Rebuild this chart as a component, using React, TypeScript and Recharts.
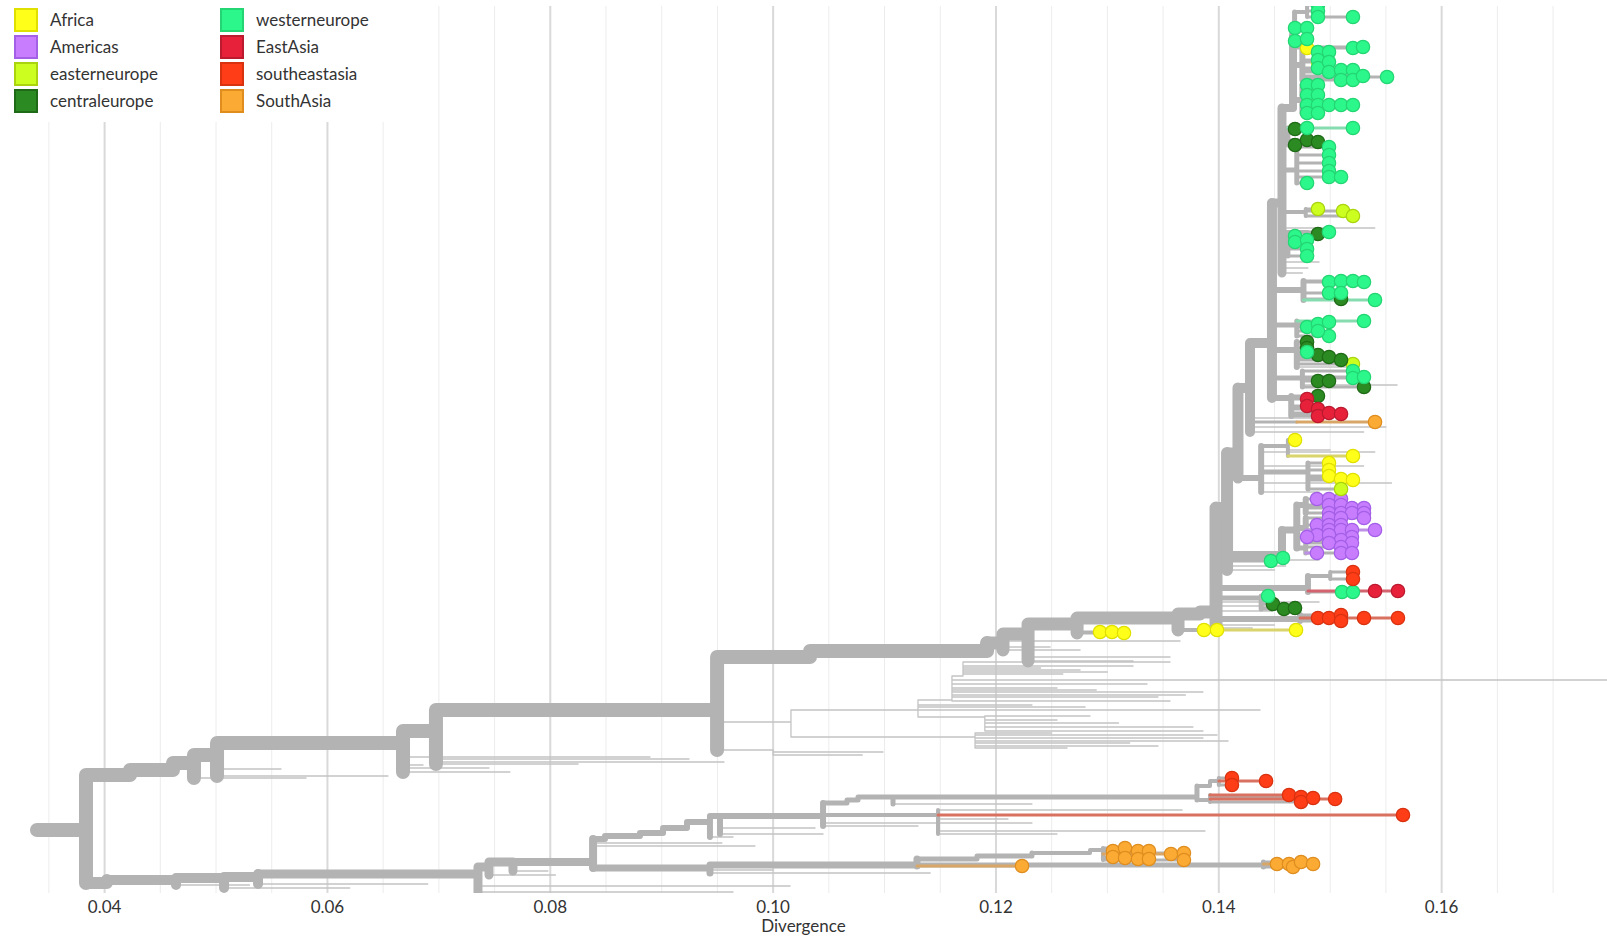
import React from 'react'
import { ComposedChart, Line, Scatter, XAxis, YAxis } from 'recharts'

// [id, parent, divergence, row, width]
type TreeNode = [string, string, number, number, number]
// [parent, divergence, row]
type Twig = [string, number, number]
// [parent, divergence, row, tinted branch]
type Tip = [string, number, number, number?]

const divergenceRange: [number, number] = [0.030612, 0.17484]
const rowRange: [number, number] = [6, 893]
const majorTicks = [0.04, 0.06, 0.08, 0.1, 0.12, 0.14, 0.16]
const minorTicks = [
  0.035, 0.045, 0.05, 0.055, 0.065, 0.07, 0.075, 0.085, 0.09, 0.095, 0.105, 0.11, 0.115,
  0.125, 0.13, 0.135, 0.145, 0.15, 0.155, 0.165, 0.17,
]

const rootPath: TreeNode[] = [
  ['O', '', 0.03393, 830, 14],
  ['R', 'O', 0.03833, 830, 14],
]

const upperBackbone: TreeNode[] = [
  ['u1', 'R', 0.04228, 775, 14],
  ['u2', 'u1', 0.04614, 770, 14],
  ['u3', 'u2', 0.04802, 763, 14],
  ['u4', 'u3', 0.05009, 755, 14],
  ['u5', 'u4', 0.06678, 743, 14],
  ['u6', 'u5', 0.06974, 731, 14],
  ['u7', 'u6', 0.09497, 710, 14],
  ['u8', 'u7', 0.10331, 657, 14],
  ['u9', 'u8', 0.1192, 651, 14],
  ['u10', 'u9', 0.12063, 643, 13],
  ['u11', 'u10', 0.12288, 634, 13],
  ['u12', 'u11', 0.12728, 624, 13],
  ['u13', 'u12', 0.13634, 618, 13],
  ['u14', 'u13', 0.13831, 614, 13],
]

const spine: TreeNode[] = [
  ['S0', 'u14', 0.13975, 612, 13],
  ['S1', 'S0', 0.14074, 508, 12],
  ['S2', 'S1', 0.14172, 453, 11],
  ['S3', 'S2', 0.1428, 388, 10],
  ['N', 'S3', 0.14477, 343, 10],
  ['T2', 'N', 0.14567, 203, 9],
  ['T3', 'T2', 0.14666, 108, 8],
]

const clades: TreeNode[] = [
  ['tA', 'T3', 0.1468, 35, 5],
  ['tTop', 'tA', 0.14792, 12, 4],
  ['tB', 'T3', 0.1475, 65, 6],
  ['tC', 'T3', 0.1475, 100, 6],
  ['dg', 'T2', 0.1462, 135, 5],
  ['g183', 'T2', 0.147, 170, 5],
  ['ee', 'T2', 0.1478, 212, 4],
  ['g232', 'T2', 0.148, 232, 4],
  ['g245', 'T2', 0.1462, 247, 5],
  ['g290', 'N', 0.1476, 290, 6],
  ['g327', 'N', 0.147, 325, 5],
  ['ce', 'N', 0.147, 350, 6],
  ['g378', 'N', 0.1475, 378, 5],
  ['ea', 'N', 0.1465, 398, 6],
  ['sa', 'S3', 0.147, 422, 3],
  ['af', 'S2', 0.1438, 478, 6],
  ['af2', 'af', 0.1462, 446, 4],
  ['af3', 'af', 0.148, 472, 5],
  ['am', 'S1', 0.14567, 555, 8],
  ['am2', 'am', 0.147, 530, 7],
  ['am3', 'am2', 0.1478, 505, 6],
  ['am4', 'am2', 0.1478, 528, 6],
  ['am5', 'am2', 0.1478, 548, 5],
  ['sea', 'S0', 0.14729, 619, 6],
  ['ce2', 'S0', 0.1438, 598, 5],
  ['ea2', 'S0', 0.148, 588, 6],
  ['ea3', 'ea2', 0.15, 576, 4],
  ['yb', 'u13', 0.13867, 630, 4],
]

const lowerBackbone: TreeNode[] = [
  ['l1', 'R', 0.04021, 883, 12],
  ['l2', 'l1', 0.04641, 880, 10],
  ['l3', 'l2', 0.05072, 878, 10],
  ['l4', 'l3', 0.05377, 877, 10],
  ['l5', 'l4', 0.07351, 874, 9],
  ['l6', 'l5', 0.0745, 867, 9],
  ['l7', 'l6', 0.07665, 862, 9],
  ['N1', 'l7', 0.08384, 862, 8],
  ['a1', 'N1', 0.08491, 839, 6],
  ['a2', 'a1', 0.08805, 836, 6],
  ['a3', 'a2', 0.09012, 833, 6],
  ['a4', 'a3', 0.09227, 828, 6],
  ['a5', 'a4', 0.09433, 822, 6],
  ['a6', 'a5', 0.09523, 816, 6],
  ['N2', 'a6', 0.10448, 816, 6],
  ['b1', 'N2', 0.10663, 803, 5],
  ['b3', 'b1', 0.10762, 800, 5],
  ['b4', 'b3', 0.11076, 797, 5],
  ['N3', 'b4', 0.13804, 797, 5],
  ['c1', 'N3', 0.13921, 786, 4],
  ['c2', 'c1', 0.14, 781, 4],
  ['c3', 'N3', 0.13921, 800, 4],
  ['b2', 'N2', 0.1148, 815, 4],
  ['d1', 'N1', 0.09433, 868, 7],
  ['d2', 'd1', 0.11291, 865, 7],
  ['d3', 'd2', 0.1183, 859, 5],
  ['d4', 'd3', 0.12323, 856, 5],
  ['d5', 'd4', 0.12844, 853, 4],
  ['d6', 'd5', 0.1296, 850, 4],
  ['d7', 'd2', 0.144, 865, 5],
]

const midNodes: TreeNode[] = [
  ['m1', 'u7', 0.1016, 722, 1.3],
  ['m2', 'm1', 0.113, 710, 1.3],
  ['m3', 'm2', 0.11605, 700, 1.3],
  ['m4', 'm3', 0.11704, 676, 1.3],
  ['m5', 'm2', 0.119, 717, 1.3],
  ['m6', 'm1', 0.11812, 737, 1.3],
  ['m7', 'u7', 0.1, 750, 1.3],
]

const twigs: Twig[] = [
  ['u3', 0.05808, 778], ['u4', 0.06543, 776], ['u4', 0.05583, 769], ['u5', 0.07638, 772],
  ['u5', 0.06858, 765], ['u5', 0.08895, 757], ['u6', 0.09245, 759], ['u6', 0.09559, 762],
  ['u5', 0.0745, 768], ['u6', 0.0825, 764],
  ['m4', 0.12755, 670], ['m4', 0.1323, 666], ['m4', 0.13562, 662], ['m4', 0.126, 674],
  ['m4', 0.13, 672], ['m4', 0.124, 668],
  ['m3', 0.13356, 684], ['m3', 0.12548, 688], ['m3', 0.13858, 692], ['m3', 0.13454, 697],
  ['m3', 0.13562, 701], ['m3', 0.17484, 680], ['m3', 0.129, 690], ['m3', 0.137, 695],
  ['m2', 0.12323, 705], ['m2', 0.1437, 710], ['m2', 0.128, 707],
  ['m5', 0.12844, 716], ['m5', 0.12548, 720], ['m5', 0.13768, 727], ['m5', 0.13858, 731],
  ['m5', 0.131, 723],
  ['m6', 0.13984, 735], ['m6', 0.13858, 738], ['m6', 0.14083, 741], ['m6', 0.13454, 746],
  ['m6', 0.12638, 748], ['m6', 0.132, 743], ['m6', 0.125, 733],
  ['m7', 0.10986, 752], ['m7', 0.108, 755],
  ['u9', 0.12486, 647], ['u10', 0.13652, 641], ['u10', 0.12755, 650], ['u11', 0.13562, 657],
  ['u11', 0.1323, 661],
  ['S0', 0.149, 602], ['S0', 0.1465, 606], ['S0', 0.1448, 611], ['S0', 0.145, 625], ['S0', 0.143, 628],
  ['S1', 0.146, 566], ['S1', 0.145, 570], ['am', 0.149, 560],
  ['af', 0.154, 452], ['af', 0.153, 466], ['af', 0.1555, 483], ['af', 0.149, 492], ['af2', 0.15, 450],
  ['S3', 0.155, 427], ['S3', 0.153, 432], ['S3', 0.15, 418],
  ['g378', 0.156, 385], ['ce', 0.1515, 367],
  ['T2', 0.154, 228], ['T2', 0.149, 262], ['T2', 0.148, 268], ['T2', 0.1475, 273],
  ['l2', 0.053, 885], ['l3', 0.062, 888], ['l4', 0.069, 884], ['l6', 0.08046, 875],
  ['l7', 0.07979, 871], ['l5', 0.10152, 886], ['l5', 0.0964, 892],
  ['N1', 0.0954, 843], ['N1', 0.09837, 846], ['a5', 0.0964, 837],
  ['a6', 0.10376, 828], ['a6', 0.10448, 834], ['N2', 0.113, 826],
  ['b4', 0.12323, 804], ['b2', 0.1367, 810], ['b2', 0.12108, 819], ['N2', 0.12323, 823],
  ['b2', 0.13876, 831], ['b2', 0.12548, 834], ['d1', 0.1141, 873], ['d1', 0.1, 870],
]

const africaTips: Tip[] = [
  ['tA', 0.14792, 48], ['tB', 0.1489, 62],
  ['af2', 0.14684, 440], ['af2', 0.15204, 456, 1], ['af3', 0.14989, 463], ['af3', 0.14989, 470],
  ['af3', 0.14989, 476], ['af3', 0.15097, 479], ['af3', 0.15204, 480],
  ['u12', 0.12934, 632], ['u12', 0.13041, 632], ['u12', 0.13149, 633],
  ['yb', 0.13867, 630], ['yb', 0.13984, 630], ['yb', 0.14693, 630, 1],
]

const americasTips: Tip[] = [
  ['am3', 0.14881, 499], ['am3', 0.14989, 499], ['am3', 0.15097, 499], ['am3', 0.14989, 505],
  ['am3', 0.15097, 505], ['am3', 0.15195, 508], ['am3', 0.15303, 508], ['am3', 0.14989, 513],
  ['am3', 0.15097, 513], ['am3', 0.15195, 513], ['am3', 0.15303, 513],
  ['am4', 0.14989, 518], ['am4', 0.15097, 518], ['am4', 0.15303, 518], ['am4', 0.14881, 525],
  ['am4', 0.14989, 525], ['am4', 0.15097, 525], ['am4', 0.14989, 530], ['am4', 0.15097, 530],
  ['am4', 0.15195, 530], ['am4', 0.15402, 530, 1], ['am4', 0.14881, 535], ['am4', 0.14989, 535],
  ['am4', 0.14792, 537], ['am4', 0.15195, 537],
  ['am5', 0.15097, 540], ['am5', 0.14989, 543], ['am5', 0.15195, 543], ['am5', 0.15097, 547],
  ['am5', 0.14881, 553, 1], ['am5', 0.15097, 553], ['am5', 0.15195, 553],
]

const easternEuropeTips: Tip[] = [
  ['ee', 0.1489, 209], ['ee', 0.15115, 211], ['ee', 0.15204, 216],
  ['ce', 0.15204, 364], ['af3', 0.15097, 489],
]

const centralEuropeTips: Tip[] = [
  ['dg', 0.14684, 129], ['dg', 0.14684, 145], ['dg', 0.14792, 140], ['dg', 0.1489, 142],
  ['g232', 0.1489, 234], ['g290', 0.15097, 299],
  ['ce', 0.14792, 342], ['ce', 0.14792, 348], ['ce', 0.1489, 355], ['ce', 0.14989, 357],
  ['ce', 0.15097, 360],
  ['g378', 0.15303, 387], ['g378', 0.1489, 381], ['g378', 0.14989, 381], ['ea', 0.1489, 396],
  ['ce2', 0.14486, 604], ['ce2', 0.14585, 609], ['ce2', 0.14684, 608],
]

const westernEuropeTips: Tip[] = [
  ['tTop', 0.1489, 5], ['tTop', 0.1489, 11], ['tTop', 0.1489, 17], ['tTop', 0.15204, 17],
  ['tA', 0.14684, 28], ['tA', 0.14792, 28], ['tA', 0.14684, 41], ['tA', 0.14792, 39],
  ['tB', 0.1489, 52], ['tB', 0.1489, 60], ['tB', 0.1489, 68], ['tB', 0.14989, 52],
  ['tB', 0.14989, 62], ['tB', 0.14989, 72], ['tB', 0.15097, 70], ['tB', 0.15097, 80],
  ['tB', 0.15204, 70], ['tB', 0.15204, 80], ['tB', 0.15204, 48], ['tB', 0.15294, 47],
  ['tB', 0.15294, 76], ['tB', 0.1551, 77],
  ['tC', 0.14792, 85], ['tC', 0.14792, 95], ['tC', 0.14792, 105], ['tC', 0.14792, 113],
  ['tC', 0.1489, 85], ['tC', 0.1489, 95], ['tC', 0.1489, 105], ['tC', 0.1489, 113],
  ['tC', 0.14989, 105], ['tC', 0.15097, 105], ['tC', 0.15204, 105],
  ['dg', 0.14792, 128], ['dg', 0.15204, 128, 1],
  ['g183', 0.14792, 183], ['g183', 0.14989, 147], ['g183', 0.14989, 155], ['g183', 0.14989, 163],
  ['g183', 0.14989, 171], ['g183', 0.14989, 177], ['g183', 0.15097, 177],
  ['g232', 0.14989, 232],
  ['g245', 0.14684, 236], ['g245', 0.14684, 242], ['g245', 0.14792, 240], ['g245', 0.14792, 249],
  ['g245', 0.14792, 256],
  ['g290', 0.14989, 282], ['g290', 0.15097, 281], ['g290', 0.15204, 281], ['g290', 0.15303, 282],
  ['g290', 0.14989, 293], ['g290', 0.15097, 293], ['g290', 0.15402, 300, 1],
  ['g327', 0.14792, 327], ['g327', 0.1489, 324], ['g327', 0.14989, 322], ['g327', 0.15303, 321, 1],
  ['g327', 0.14989, 336], ['g327', 0.1489, 331],
  ['ce', 0.14792, 352],
  ['g378', 0.15204, 371], ['g378', 0.15204, 378], ['g378', 0.15303, 377],
  ['S1', 0.14468, 561], ['S1', 0.14576, 558],
  ['ce2', 0.14442, 596],
  ['ea2', 0.15106, 592], ['ea2', 0.15204, 592],
]

const eastAsiaTips: Tip[] = [
  ['ea', 0.14792, 399], ['ea', 0.14792, 406], ['ea', 0.1489, 409], ['ea', 0.1489, 416],
  ['ea', 0.14989, 413], ['ea', 0.15097, 414],
  ['ea2', 0.15402, 591, 1], ['ea2', 0.15608, 591, 1],
]

const southeastAsiaTips: Tip[] = [
  ['ea3', 0.15204, 572], ['ea3', 0.15204, 579],
  ['sea', 0.1489, 618], ['sea', 0.14989, 618], ['sea', 0.15097, 615], ['sea', 0.15097, 621],
  ['sea', 0.15303, 618, 1], ['sea', 0.15608, 618, 1],
  ['c2', 0.14118, 778], ['c2', 0.14118, 785], ['c2', 0.14424, 781, 1],
  ['c3', 0.1463, 795, 1], ['c3', 0.14738, 797], ['c3', 0.14738, 802], ['c3', 0.14846, 798],
  ['c3', 0.15044, 799, 1],
  ['b2', 0.15653, 815, 1],
]

const southAsiaTips: Tip[] = [
  ['sa', 0.15402, 422, 1],
  ['d2', 0.12234, 866, 1],
  ['d6', 0.1305, 851], ['d6', 0.1305, 857], ['d6', 0.13158, 848], ['d6', 0.13158, 858],
  ['d6', 0.13275, 851], ['d6', 0.13275, 859], ['d6', 0.13373, 851], ['d6', 0.13373, 859],
  ['d6', 0.13571, 854, 1], ['d6', 0.13687, 853], ['d6', 0.13687, 860],
  ['d7', 0.14522, 864, 1], ['d7', 0.1463, 864], ['d7', 0.14666, 867], ['d7', 0.14738, 862],
  ['d7', 0.14846, 864],
]

const regions = [
  { name: 'Africa', fill: '#ffff1a', stroke: '#e0e000', branch: '#d9d46c', tips: africaTips },
  { name: 'Americas', fill: '#c87dff', stroke: '#a35fe6', branch: '#bd92e6', tips: americasTips },
  { name: 'easterneurope', fill: '#ccff1f', stroke: '#a9d40e', branch: '#bcd56a', tips: easternEuropeTips },
  { name: 'centraleurope', fill: '#2b8a21', stroke: '#1f6a17', branch: '#6c9d63', tips: centralEuropeTips },
  { name: 'westerneurope', fill: '#2cf78a', stroke: '#23d673', branch: '#86dcae', tips: westernEuropeTips },
  { name: 'EastAsia', fill: '#e8213b', stroke: '#bb1a2f', branch: '#d3646f', tips: eastAsiaTips },
  { name: 'southeastasia', fill: '#ff3d17', stroke: '#d93211', branch: '#d8715f', tips: southeastAsiaTips },
  { name: 'SouthAsia', fill: '#fbab33', stroke: '#df8d1f', branch: '#d8a666', tips: southAsiaTips },
]

const GRAY = '#b3b3b3'
const TWIG_GRAY = '#c4c4c4'

type Pt = { x: number; y: number | null }
type Seg = { pts: Pt[]; w: number; color: string }

function buildBranches() {
  const internal = [...rootPath, ...upperBackbone, ...spine, ...clades, ...lowerBackbone, ...midNodes]
  const byId = new Map<string, TreeNode>(internal.map(n => [n[0], n]))
  const spans = new Map<string, [number, number]>()
  const segs: Seg[] = []
  const horiz = (pid: string, x: number, y: number, w: number, color: string) => {
    const p = byId.get(pid)
    if (!p) return
    segs.push({ pts: [{ x: p[2], y }, { x, y }], w, color })
    const s = spans.get(pid) ?? [p[3], p[3]]
    spans.set(pid, [Math.min(s[0], y), Math.max(s[1], y)])
  }
  internal.forEach(n => { if (n[1]) horiz(n[1], n[2], n[3], n[4], n[4] < 2 ? TWIG_GRAY : GRAY) })
  twigs.forEach(t => horiz(t[0], t[1], t[2], 1.3, TWIG_GRAY))
  regions.forEach(r => r.tips.forEach(t => horiz(t[0], t[1], t[2], 3, t[3] ? r.branch : GRAY)))
  internal.forEach(n => {
    const s = spans.get(n[0])
    if (!s) return
    segs.push({ pts: [{ x: n[2], y: s[0] }, { x: n[2], y: s[1] }], w: n[4], color: n[4] < 2 ? TWIG_GRAY : GRAY })
  })

  const groups = new Map<string, { w: number; color: string; data: Pt[] }>()
  segs.forEach(s => {
    const key = `${s.color}|${s.w}`
    if (!groups.has(key)) groups.set(key, { w: s.w, color: s.color, data: [] })
    const g = groups.get(key)!
    g.data.push(...s.pts, { x: s.pts[s.pts.length - 1].x, y: null })
  })
  const rank = (c: string) => (c === TWIG_GRAY ? 0 : c === GRAY ? 1 : 2)
  return [...groups.values()].sort((a, b) => rank(a.color) - rank(b.color) || b.w - a.w)
}

const branchGroups = buildBranches()

const gridLines = [
  ...minorTicks.map(v => ({ v, stroke: '#ececec', w: 1 })),
  ...majorTicks.map(v => ({ v, stroke: '#d9d9d9', w: 2 })),
]

export default function App() {
  return (
    <div style={{ position: 'absolute', left: 0, top: 0, width: 1607, height: 941, background: '#fff', fontFamily: 'Lato, sans-serif' }}>
      <ComposedChart width={1607} height={941} margin={{ top: 6, right: 0, bottom: 0, left: 0 }}>
        <XAxis
          dataKey="x"
          type="number"
          domain={divergenceRange}
          allowDataOverflow
          ticks={majorTicks}
          interval={0}
          tickFormatter={(v: number) => v.toFixed(2)}
          axisLine={false}
          tickLine={false}
          height={48}
          tick={{ fill: '#333', fontSize: 17, fontFamily: 'Lato' }}
          label={{ value: 'Divergence', position: 'insideBottom', offset: 9, fill: '#333', fontSize: 17, fontFamily: 'Lato' }}
        />
        <YAxis dataKey="y" type="number" domain={rowRange} reversed hide allowDataOverflow width={0} />
        {gridLines.map(g => (
          <Line
            key={`g${g.v}`}
            data={[{ x: g.v, y: rowRange[0] }, { x: g.v, y: rowRange[1] }]}
            dataKey="y"
            type="linear"
            stroke={g.stroke}
            strokeWidth={g.w}
            dot={false}
            activeDot={false}
            isAnimationActive={false}
          />
        ))}
        {branchGroups.map((g, i) => (
          <Line
            key={`b${i}`}
            data={g.data}
            dataKey="y"
            type="linear"
            stroke={g.color}
            strokeWidth={g.w}
            strokeLinecap="round"
            strokeLinejoin="round"
            dot={false}
            activeDot={false}
            connectNulls={false}
            isAnimationActive={false}
          />
        ))}
        {regions.map(r => (
          <Scatter
            key={r.name}
            data={r.tips.map(t => ({ x: t[1], y: t[2] }))}
            isAnimationActive={false}
            shape={(p: any) => <circle cx={p.cx} cy={p.cy} r={6.7} fill={r.fill} stroke={r.stroke} strokeWidth={1.2} />}
          />
        ))}
      </ComposedChart>
      <div style={{ position: 'absolute', left: 0, top: 0, width: 400, height: 122, background: '#fff', fontSize: 17, color: '#333' }}>
        {regions.map((r, i) => (
          <div key={r.name} style={{ position: 'absolute', left: 14, top: 8 + (i % 4) * 27, marginLeft: i < 4 ? 0 : 206, height: 23, display: 'flex', alignItems: 'center' }}>
            <span style={{ width: 20, height: 20, background: r.fill, border: `2px solid ${r.stroke}`, display: 'inline-block' }} />
            <span style={{ marginLeft: 12, lineHeight: '23px' }}>{r.name}</span>
          </div>
        ))}
      </div>
    </div>
  )
}
